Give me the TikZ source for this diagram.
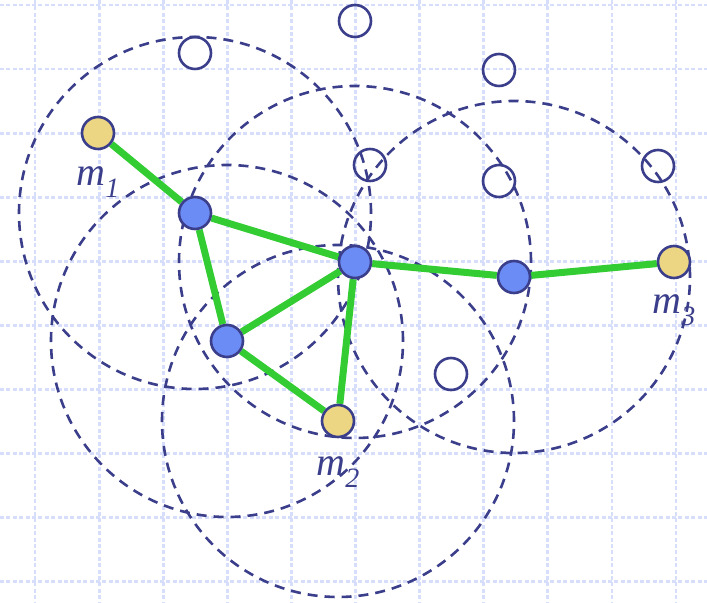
\documentclass[tikz,border=0pt]{standalone}
\usepackage{fontspec}
\setmainfont{Liberation Serif}
\usepackage{xcolor}
\usetikzlibrary{positioning,backgrounds}
\definecolor{navy}{RGB}{59,62,138}
\definecolor{relayblue}{RGB}{108,140,245}
\definecolor{endyellow}{RGB}{236,214,132}
\definecolor{linkgreen}{RGB}{51,204,51}
\definecolor{gridblue}{RGB}{214,222,252}
\newcommand{\lsub}[1]{\raisebox{-6pt}{\fontsize{14}{16}\selectfont #1}}

\begin{document}
\begin{tikzpicture}[
    x=0.5pt, y=-0.5pt,
    gridline/.style={draw=gridblue, line width=1.4pt, dash pattern=on 2pt off 1.2pt},
    relay/.style={draw=navy, circle, line width=1.3pt, minimum size=16pt, inner sep=0pt, fill=relayblue},
    endpt/.style={draw=navy, circle, line width=1.3pt, minimum size=16pt, inner sep=0pt, fill=endyellow},
    idle/.style={draw=navy, circle, line width=1.3pt, minimum size=16pt, inner sep=0pt},
    reach/.style={draw=navy, line width=1.3pt, dash pattern=on 5pt off 3.5pt},
    link/.style={draw=linkgreen, line width=3.5pt},
    lbl/.style={text=navy, inner sep=0pt, font=\fontsize{20}{24}\selectfont\itshape}
]
\useasboundingbox (0,0) rectangle (707,603);

% --- Idle nodes ---
\node[idle] (e1) at (195,53) {};
\node[idle] (e2) at (355,21) {};
\node[idle] (e3) at (499,70) {};
\node[idle] (e4) at (370,165) {};
\node[idle] (e5) at (499,181) {};
\node[idle] (e6) at (658,166) {};
\node[idle] (e7) at (451,374) {};

% --- Relays ---
\node[relay] (r1) at (195,213) {};
\node[relay] (r2) at (355,262) {};
\node[relay] (r3) at (227,341) {};
\node[relay] (r4) at (514,277) {};

% --- End points ---
\node[endpt] (m1) at (98,133) {};
\node[endpt] (m2) at (338,421) {};
\node[endpt] (m3) at (674,262) {};

\node[lbl, below=8pt of m1] (m1lbl) {m\lsub{1}};
\node[lbl, below=9pt of m2] (m2lbl) {m\lsub{2}};
\node[lbl, below=7.5pt of m3] (m3lbl) {m\lsub{3}};

\begin{pgfonlayer}{background}
% --- Grid ---
\foreach \i in {0,...,10}
    \draw[gridline] (35+64.1*\i,0) -- (35+64.1*\i,603);
\foreach \j in {0,...,9}
    \draw[gridline] (0,5+64.1*\j) -- (707,5+64.1*\j);

% --- Ranges ---
\foreach \c in {r1,r2,r3,r4,m2}
    \draw[reach] (\c) circle[radius=88pt];

% --- Route ---
\draw[link] (m1) -- (r1);
\draw[link] (r1) -- (r2);
\draw[link] (r1) -- (r3);
\draw[link] (r3) -- (r2);
\draw[link] (r3) -- (m2);
\draw[link] (m2) -- (r2);
\draw[link] (r2) -- (r4);
\draw[link] (r4) -- (m3);
\end{pgfonlayer}
\end{tikzpicture}
\end{document}
